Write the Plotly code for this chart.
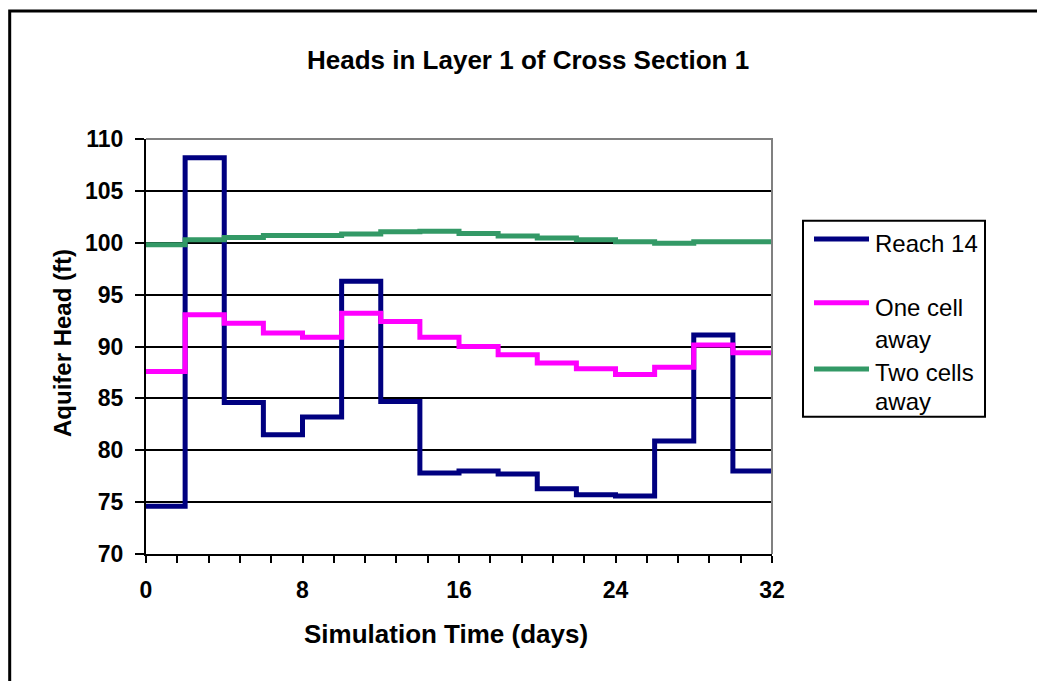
import plotly.graph_objects as go

# Step boundaries (days) and heads (ft) for each 2-day stress period
days = [0, 2, 4, 6, 8, 10, 12, 14, 16, 18, 20, 22, 24, 26, 28, 30, 32]
reach_14 = [74.6, 108.2, 84.6, 81.5, 83.2, 96.3, 84.7, 77.8,
            78.0, 77.7, 76.3, 75.7, 75.6, 80.9, 91.1, 78.0]
one_cell_away = [87.6, 93.05, 92.25, 91.3, 90.9, 93.2, 92.4, 90.9,
                 90.0, 89.2, 88.4, 87.85, 87.3, 88.0, 90.15, 89.4]
two_cells_away = [99.8, 100.3, 100.5, 100.7, 100.7, 100.85, 101.05, 101.1,
                  100.9, 100.65, 100.45, 100.3, 100.1, 99.95, 100.1, 100.1]

series_names = ["Reach 14", "One cell away", "Two cells away"]
legend_lines = [["Reach 14"], ["One cell", "away"], ["Two cells", "away"]]
series_colors = ["#000080", "#FF00FF", "#339966"]
x_tick_labels = ["0", "8", "16", "24", "32"]
y_tick_values = [70, 75, 80, 85, 90, 95, 100, 105, 110]

FONT = "Liberation Sans, Arial, sans-serif"

# Plot-area box in pixels
FIG_W, FIG_H = 1037, 681
L, R, T, B = 146, 772, 139, 554
PW, PH = R - L, B - T


def px_x(px):
    return (px - L) / PW


def px_y(py):
    return (B - py) / PH


fig = go.Figure()

for name, vals, color in zip(series_names,
                             [reach_14, one_cell_away, two_cells_away],
                             series_colors):
    fig.add_trace(go.Scatter(
        x=days,
        y=vals + [vals[-1]],
        mode="lines",
        line=dict(color=color, width=5, shape="hv"),
        name=name,
        showlegend=False,
        hoverinfo="skip",
    ))

shapes = []
annotations = []

# outer chart frame
shapes.append(dict(type="rect", xref="paper", yref="paper",
                   x0=px_x(9.7), x1=px_x(FIG_W + 5), y0=px_y(FIG_H + 5), y1=px_y(11),
                   line=dict(color="black", width=3), layer="below"))
# plot area top/right border in grey
shapes.append(dict(type="path", xref="paper", yref="paper",
                   path="M 0 1 L 1 1 L 1 0",
                   line=dict(color="#808080", width=2), layer="above"))

# legend box
shapes.append(dict(type="rect", xref="paper", yref="paper",
                   x0=px_x(803), x1=px_x(985), y0=px_y(416.7), y1=px_y(220.7),
                   line=dict(color="black", width=2), fillcolor="white", layer="above"))
sample_y = [239, 302.7, 369]
text_y = [[243], [307.3, 339], [372.3, 401.6]]
for color, sy, lines, tys in zip(series_colors, sample_y, legend_lines, text_y):
    shapes.append(dict(type="line", xref="paper", yref="paper",
                       x0=px_x(814), x1=px_x(869), y0=px_y(sy), y1=px_y(sy),
                       line=dict(color=color, width=5), layer="above"))
    for txt, ty in zip(lines, tys):
        annotations.append(dict(text=txt, xref="paper", yref="paper",
                                x=px_x(873), y=px_y(ty), xanchor="left", yanchor="middle",
                                showarrow=False,
                                font=dict(family=FONT, size=24, color="black")))

# axis titles
annotations.append(dict(text="Simulation Time (days)", xref="paper", yref="paper",
                        x=px_x(446), y=px_y(634), xanchor="center", yanchor="middle",
                        showarrow=False,
                        font=dict(family=FONT, size=26, color="black", weight="bold")))
annotations.append(dict(text="Aquifer Head (ft)", xref="paper", yref="paper",
                        x=px_x(62), y=px_y(343), xanchor="center", yanchor="middle",
                        textangle=-90, showarrow=False,
                        font=dict(family=FONT, size=24, color="black", weight="bold")))
# chart title
annotations.append(dict(text="Heads in Layer 1 of Cross Section 1", xref="paper", yref="paper",
                        x=px_x(528), y=px_y(60), xanchor="center", yanchor="middle",
                        showarrow=False,
                        font=dict(family=FONT, size=26, color="black", weight="bold")))

fig.update_layout(
    width=FIG_W, height=FIG_H,
    margin=dict(l=L, r=FIG_W - R, t=T, b=FIG_H - B, pad=0),
    paper_bgcolor="white", plot_bgcolor="white",
    showlegend=False,
    shapes=shapes,
    annotations=annotations,
    xaxis=dict(
        range=[0, 32], tickvals=[0, 8, 16, 24, 32], ticktext=x_tick_labels,
        showgrid=False, zeroline=False,
        showline=True, linecolor="black", linewidth=2,
        ticks="outside", ticklen=7, tickwidth=2, tickcolor="black",
        minor=dict(dtick=1.6, tick0=0, ticks="outside", ticklen=7, tickwidth=2,
                   tickcolor="black", showgrid=False),
        tickfont=dict(family=FONT, size=23, color="black", weight="bold"),
        ticklabelstandoff=7,
    ),
    yaxis=dict(
        range=[70, 110], tickvals=y_tick_values,
        showgrid=True, gridcolor="black", gridwidth=2, zeroline=False,
        showline=True, linecolor="black", linewidth=2,
        ticks="outside", ticklen=9, tickwidth=2, tickcolor="black",
        tickfont=dict(family=FONT, size=23, color="black", weight="bold"),
        ticklabelstandoff=7,
    ),
)

fig.write_html("out.html")
